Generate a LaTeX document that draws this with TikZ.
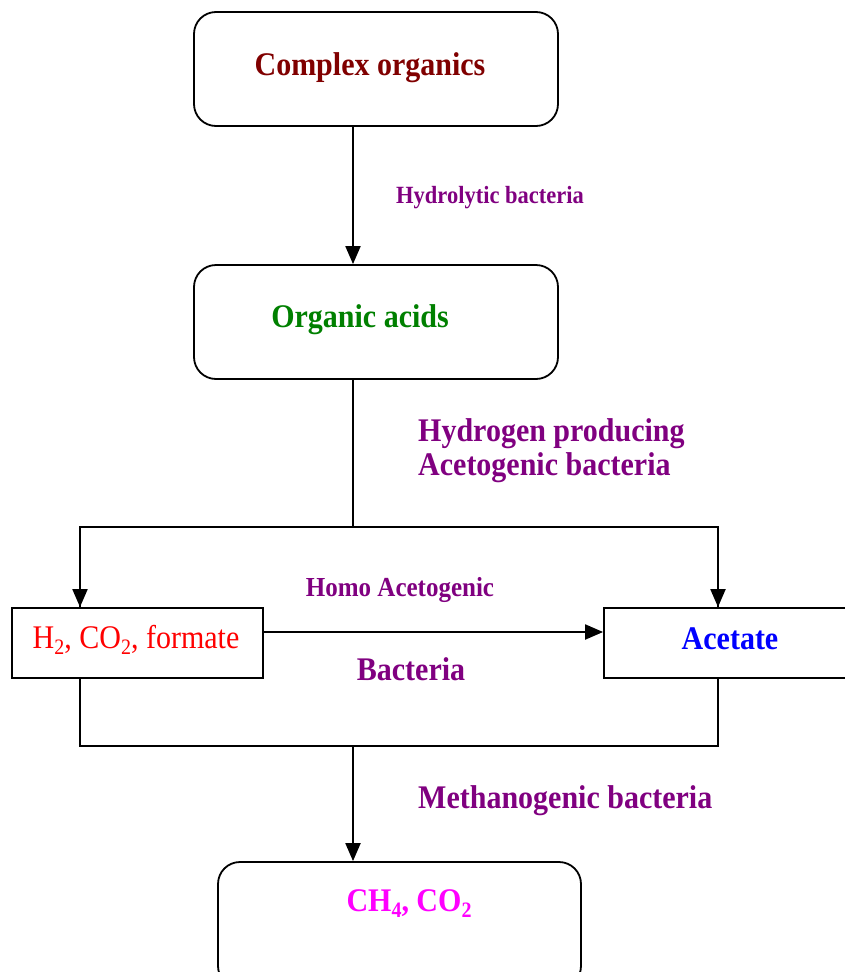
\documentclass[tikz,border=0pt]{standalone}
\usepackage{fontspec}
\setmainfont{Liberation Serif}
\usetikzlibrary{arrows.meta}
\definecolor{cdarkred}{HTML}{800000}
\definecolor{cgreen}{HTML}{008000}
\definecolor{cpurple}{HTML}{800080}
\definecolor{cred}{HTML}{FF0000}
\definecolor{cblue}{HTML}{0000FF}
\definecolor{cmag}{HTML}{FF00FF}
\newcommand\vstr[1]{\scalebox{1}[1.1]{#1}}
\newcommand\sbs[1]{\raisebox{-6pt}{\fontsize{20pt}{22pt}\selectfont #1}}
\tikzset{
  rbox/.style={draw, line width=1.8pt, rounded corners=22pt, inner sep=0pt},
  sbox/.style={draw, line width=1.8pt, inner sep=0pt},
  arr/.style={line width=2pt, -{Triangle[length=18pt,width=15pt]}},
  plain/.style={line width=1.5pt},
  txt/.style={inner sep=0pt, font=\bfseries\fontsize{30pt}{34pt}\selectfont},
}
\begin{document}
\begin{tikzpicture}[x=1pt,y=-1pt]
\useasboundingbox (0,0) rectangle (845,972);
\clip (0,0) rectangle (845,972);
% boxes
\node[rbox, minimum width=364pt, minimum height=114pt] (b1) at (376,69) {};
\node[rbox, minimum width=364pt, minimum height=114pt] (b2) at (376,322) {};
\node[sbox, minimum width=251pt, minimum height=70pt] (b3) at (137.5,643) {};
\node[sbox, minimum width=250pt, minimum height=70pt] (b4) at (729,643) {};
\node[rbox, minimum width=363pt, minimum height=126pt] (b5) at (399.5,925) {};
% texts
\node[txt, anchor=base, text=cdarkred] (t1) at (370,75) {\vstr{Complex organics}};
\node[txt, anchor=base, text=cgreen] (t2) at (360,327) {\vstr{Organic acids}};
\node[txt, anchor=base, font=\fontsize{30pt}{34pt}\selectfont, text=cred] (t3) at (136,648) {\vstr{H\sbs{2}, CO\sbs{2}, formate}};
\node[txt, anchor=base, text=cblue] (t4) at (730,649) {\vstr{Acetate}};
\node[txt, anchor=base, text=cmag] (t5) at (409,911) {\vstr{CH\sbs{\bfseries 4}, CO\sbs{\bfseries 2}}};
% labels
\node[txt, anchor=base west, font=\bfseries\fontsize{22.5pt}{26pt}\selectfont, text=cpurple] (l1) at (396,203) {\vstr{Hydrolytic bacteria}};
\node[txt, anchor=base west, text=cpurple] (l2a) at (418,441) {\vstr{Hydrogen producing}};
\node[txt, anchor=base west, text=cpurple] (l2b) at (418,475) {\vstr{Acetogenic bacteria}};
\node[txt, anchor=base, font=\bfseries\fontsize{25pt}{28pt}\selectfont, text=cpurple] (l3a) at (400,596) {\vstr{Homo Acetogenic}};
\node[txt, anchor=base, text=cpurple] (l3b) at (411,680) {\vstr{Bacteria}};
\node[txt, anchor=base west, text=cpurple] (l4) at (418,808) {\vstr{Methanogenic bacteria}};
% connectors
\coordinate (lx) at (80,0);
\coordinate (rx) at (718,0);
\coordinate (mx) at (353,0);
\coordinate (split) at (353,527);
\coordinate (merge) at (353,746);
\draw[arr] (b1.south -| mx) -- (b2.north -| mx);
\draw[plain] (b2.south -| mx) -- (split);
\draw[plain] (split) -| (b3.north -| lx);
\draw[arr] ([yshift=-1pt]split -| lx) -- (b3.north -| lx);
\draw[plain] (split) -| (b4.north -| rx);
\draw[arr] ([yshift=-1pt]split -| rx) -- (b4.north -| rx);
\draw[arr] ([yshift=11pt]b3.east) -- ([yshift=11pt]b4.west);
\draw[plain] (b3.south -| lx) |- (merge) -| (b4.south -| rx);
\draw[arr] (merge) -- (b5.north -| mx);
\end{tikzpicture}
\end{document}
